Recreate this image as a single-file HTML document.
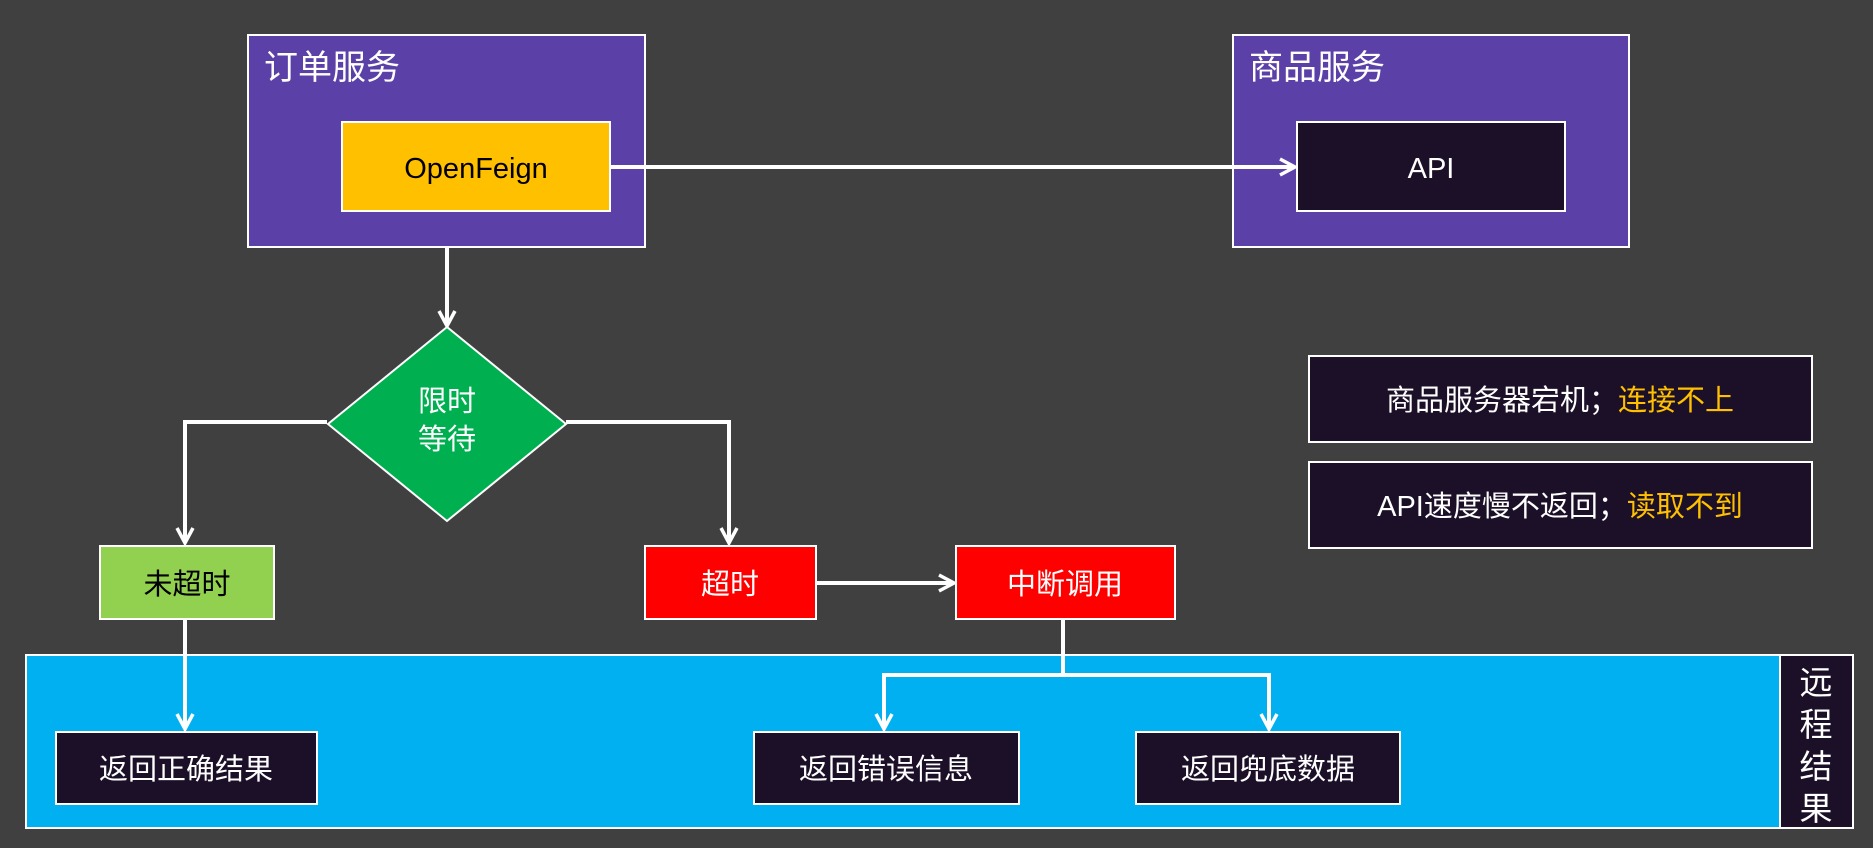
<!DOCTYPE html>
<html><head><meta charset="utf-8"><style>
body{margin:0;background:#404040;}
svg{display:block}
text{font-family:"Liberation Sans","Noto Sans CJK SC",sans-serif;}
</style></head><body>
<svg width="1873" height="848" viewBox="0 0 1873 848" xmlns="http://www.w3.org/2000/svg">
<defs>
<marker id="a" viewBox="0 0 12 12" refX="10" refY="6" markerWidth="12" markerHeight="12" markerUnits="userSpaceOnUse" orient="auto">
<path d="M1,1 L10,6 L1,11" fill="none" stroke="#fff" stroke-width="2.5"/></marker>
<marker id="b" viewBox="0 0 20 20" refX="17" refY="10" markerWidth="20" markerHeight="20" markerUnits="userSpaceOnUse" orient="auto">
<path d="M2,2 L17,10 L2,18" fill="none" stroke="#fff" stroke-width="3.5"/></marker>
</defs>
<rect width="1873" height="848" fill="#404040"/>
<!-- blue panel -->
<rect x="26" y="655" width="1754" height="173" fill="#00b0f0" stroke="#fff" stroke-width="2"/>
<rect x="1780" y="655" width="73" height="173" fill="#1c1028" stroke="#fff" stroke-width="2"/>
<text x="1816" y="694" font-size="33" fill="#fff" text-anchor="middle">远</text>
<text x="1816" y="736" font-size="33" fill="#fff" text-anchor="middle">程</text>
<text x="1816" y="778" font-size="33" fill="#fff" text-anchor="middle">结</text>
<text x="1816" y="820" font-size="33" fill="#fff" text-anchor="middle">果</text>
<!-- service boxes -->
<rect x="248" y="35" width="397" height="212" fill="#5b40a8" stroke="#fff" stroke-width="2"/>
<text x="264" y="79" font-size="34" fill="#fff">订单服务</text>
<rect x="342" y="122" width="268" height="89" fill="#ffc000" stroke="#fff" stroke-width="2"/>
<text x="476" y="178" font-size="29" fill="#000" text-anchor="middle">OpenFeign</text>
<rect x="1233" y="35" width="396" height="212" fill="#5b40a8" stroke="#fff" stroke-width="2"/>
<text x="1249" y="79" font-size="34" fill="#fff">商品服务</text>
<rect x="1297" y="122" width="268" height="89" fill="#1c1028" stroke="#fff" stroke-width="2"/>
<text x="1431" y="178" font-size="29" fill="#fff" text-anchor="middle">API</text>
<!-- connectors -->
<g fill="none" stroke="#fff" stroke-width="4">
<line x1="610" y1="167" x2="1295" y2="167" marker-end="url(#b)"/>
<line x1="447" y1="247" x2="447" y2="326" marker-end="url(#b)"/>
<polyline points="327,422 185,422 185,543" marker-end="url(#b)"/>
<polyline points="566,422 729,422 729,543" marker-end="url(#b)"/>
<line x1="816" y1="583" x2="954" y2="583" marker-end="url(#b)"/>
<line x1="185" y1="619" x2="185" y2="729" marker-end="url(#b)"/>
<polyline points="1063,619 1063,675 884,675 884,729" marker-end="url(#b)"/>
<polyline points="1063,675 1269,675 1269,729" marker-end="url(#b)"/>
</g>
<!-- diamond -->
<polygon points="447,327 566,424 447,521 328,424" fill="#00b050" stroke="#fff" stroke-width="2"/>
<text x="447" y="411" font-size="29" fill="#fff" text-anchor="middle">限时</text>
<text x="447" y="449" font-size="29" fill="#fff" text-anchor="middle">等待</text>
<!-- result boxes -->
<rect x="100" y="546" width="174" height="73" fill="#92d050" stroke="#fff" stroke-width="2"/>
<text x="187" y="594" font-size="29" fill="#000" text-anchor="middle">未超时</text>
<rect x="645" y="546" width="171" height="73" fill="#ff0000" stroke="#fff" stroke-width="2"/>
<text x="730" y="594" font-size="29" fill="#fff" text-anchor="middle">超时</text>
<rect x="956" y="546" width="219" height="73" fill="#ff0000" stroke="#fff" stroke-width="2"/>
<text x="1065" y="594" font-size="29" fill="#fff" text-anchor="middle">中断调用</text>
<rect x="56" y="732" width="261" height="72" fill="#1c1028" stroke="#fff" stroke-width="2"/>
<text x="186" y="779" font-size="29" fill="#fff" text-anchor="middle">返回正确结果</text>
<rect x="754" y="732" width="265" height="72" fill="#1c1028" stroke="#fff" stroke-width="2"/>
<text x="886" y="779" font-size="29" fill="#fff" text-anchor="middle">返回错误信息</text>
<rect x="1136" y="732" width="264" height="72" fill="#1c1028" stroke="#fff" stroke-width="2"/>
<text x="1268" y="779" font-size="29" fill="#fff" text-anchor="middle">返回兜底数据</text>
<!-- notes -->
<rect x="1309" y="356" width="503" height="86" fill="#1c1028" stroke="#fff" stroke-width="2"/>
<text x="1560" y="410" font-size="29" fill="#fff" text-anchor="middle">商品服务器宕机；<tspan fill="#ffc000">连接不上</tspan></text>
<rect x="1309" y="462" width="503" height="86" fill="#1c1028" stroke="#fff" stroke-width="2"/>
<text x="1560" y="516" font-size="29" fill="#fff" text-anchor="middle">API速度慢不返回；<tspan fill="#ffc000">读取不到</tspan></text>
</svg>
</body></html>
